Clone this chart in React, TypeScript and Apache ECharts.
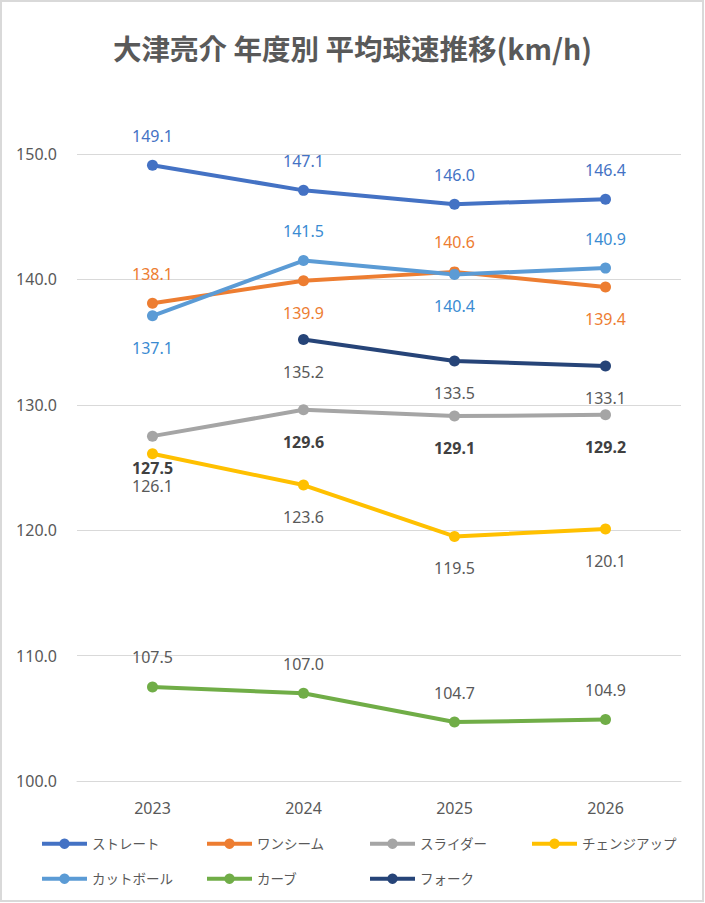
import React, { useEffect, useRef } from "react";
import * as echarts from "echarts";

const years = ["2023", "2024", "2025", "2026"];
const yTicks = [100, 110, 120, 130, 140, 150];

const straight = [149.1, 147.1, 146.0, 146.4];
const oneSeam = [138.1, 139.9, 140.6, 139.4];
const slider = [127.5, 129.6, 129.1, 129.2];
const changeup = [126.1, 123.6, 119.5, 120.1];
const cutter = [137.1, 141.5, 140.4, 140.9];
const curve = [107.5, 107.0, 104.7, 104.9];
const fork = [null, 135.2, 133.5, 133.1];

const names = ["ストレート", "ワンシーム", "スライダー", "チェンジアップ", "カットボール", "カーブ", "フォーク"];

const FONT = "'Noto Sans', 'Noto Sans CJK JP', sans-serif";

export default function App() {
  const ref = useRef<HTMLDivElement>(null);
  useEffect(() => {
    if (!ref.current) return;
    const chart = echarts.init(ref.current, null, { renderer: "svg" });

    const mk = (
      name: string,
      values: (number | null)[],
      color: string,
      labelColor: string,
      positions: string[],
      bold = false
    ) => ({
      name,
      type: "line",
      data: values.map((v, i) => {
        if (v === null) return null;
        const pos = positions[i % positions.length];
        return { value: v, label: { position: pos, distance: pos === "top" ? 16 : 18.5 } };
      }),
      connectNulls: false,
      symbol: "circle",
      symbolSize: 11,
      lineStyle: { width: 4, color },
      itemStyle: { color },
      label: {
        show: true,
        color: labelColor,
        fontSize: 16,
        fontFamily: FONT,
        fontWeight: bold ? "bold" : "normal",
        formatter: (p: any) => Number(p.value).toFixed(1),
      },
    });

    const series = [
      mk(names[0], straight, "#4472C4", "#4472C4", ["top"]),
      mk(names[1], oneSeam, "#ED7D31", "#ED7D31", ["top", "bottom", "top", "bottom"]),
      mk(names[2], slider, "#A5A5A5", "#404040", ["bottom"], true),
      mk(names[3], changeup, "#FFC000", "#595959", ["bottom"]),
      mk(names[4], cutter, "#5B9BD5", "#3A8BD2", ["bottom", "top", "bottom", "top"]),
      mk(names[5], curve, "#70AD47", "#595959", ["top"]),
      mk(names[6], fork, "#264478", "#595959", ["bottom"]),
    ];

    const legendPos = [
      [40, 837],
      [205, 837],
      [368, 837],
      [530, 837],
      [40, 872],
      [205, 872],
      [368, 872],
    ];
    const legends = names.map((n, i) => ({
      data: [n],
      left: legendPos[i][0],
      top: legendPos[i][1],
      padding: 0,
      orient: "horizontal",
      itemWidth: 45,
      itemHeight: 13,
      itemGap: 4,
      lineStyle: { width: 4 },
      textStyle: { fontSize: 13.5, color: "#595959", fontFamily: FONT },
      selectedMode: false,
    }));

    chart.setOption({
      animation: false,
      backgroundColor: "#FFFFFF",
      title: {
        text: "大津亮介 年度別 平均球速推移(km/h)",
        left: "center",
        top: 28,
        textStyle: {
          fontSize: 28.5,
          fontWeight: "bold",
          color: "#595959",
          fontFamily: "'Noto Sans CJK JP', sans-serif",
        },
      },
      legend: legends,
      grid: { left: 77, right: 24, top: 154, bottom: 122, containLabel: false },
      xAxis: {
        type: "category",
        data: years,
        boundaryGap: true,
        axisLine: { show: true, lineStyle: { color: "#D9D9D9", width: 1 } },
        axisTick: { show: false },
        axisLabel: { color: "#595959", fontSize: 16, margin: 19, fontFamily: FONT },
      },
      yAxis: {
        type: "value",
        min: yTicks[0],
        max: yTicks[yTicks.length - 1],
        interval: 10,
        axisLine: { show: false },
        axisTick: { show: false },
        splitLine: { lineStyle: { color: "#D9D9D9", width: 1 } },
        axisLabel: {
          color: "#595959",
          fontSize: 16,
          margin: 20,
          fontFamily: FONT,
          formatter: (v: number) => v.toFixed(1),
        },
      },
      graphic: [
        {
          type: "rect",
          shape: { x: 1, y: 1, width: 702, height: 900 },
          style: { fill: "none", stroke: "#D9D9D9", lineWidth: 2 },
          silent: true,
        },
      ],
      series,
    });
    return () => chart.dispose();
  }, []);
  return (
    <div
      ref={ref}
      style={{ position: "absolute", left: 0, top: 0, width: 705, height: 903 }}
    />
  );
}
